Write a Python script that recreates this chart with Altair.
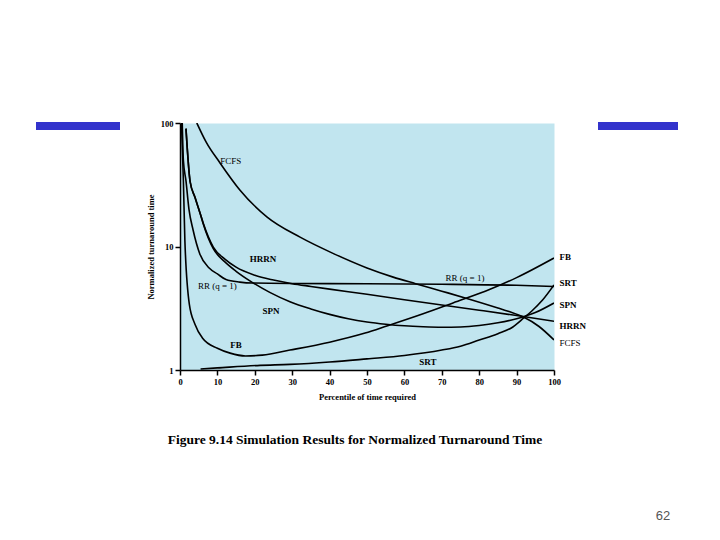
import altair as alt
import pandas as pd

# ---- series values ----
fcfs_x = [4.5, 7.0, 10.7, 16.0, 23.3, 32.1, 40.9, 50.0, 57.0, 63.0, 70.0, 76.7, 85.0, 88.0, 91.7, 96.0, 100]
fcfs_y = [100, 70, 47.5, 28.7, 17.3, 11.9, 8.8, 6.7, 5.65, 5.0, 4.35, 3.8, 3.18, 2.97, 2.7, 2.25, 1.75]

hrrn_x = [1.6, 2.7, 4.0, 5.35, 6.2, 8.9, 12, 15, 20, 25, 30, 35, 40, 50, 60, 70, 80, 90, 100]
hrrn_y = [90, 33.6, 25, 18.7, 15.5, 9.9, 7.9, 6.8, 5.85, 5.35, 5.0, 4.75, 4.52, 4.1, 3.71, 3.36, 3.05, 2.76, 2.48]

spn_x = [1.6, 2.7, 4.0, 5.35, 6.2, 8.9, 12, 15, 19, 24, 29.4, 35, 40, 45, 50, 55, 60, 65, 70, 75, 80, 85, 90, 95, 100]
spn_y = [90, 33.6, 25, 18.7, 15.3, 9.6, 7.5, 6.3, 5.2, 4.25, 3.57, 3.12, 2.82, 2.6, 2.45, 2.35, 2.28, 2.24, 2.22, 2.23, 2.29, 2.41, 2.6, 2.92, 3.49]

rr_x = [0.6, 0.9, 1.6, 2.4, 3.5, 5.3, 7.8, 10, 12.3, 16, 19.5, 30, 50, 70, 90, 100]
rr_y = [100, 50, 34, 20, 13.6, 8.7, 6.7, 6.0, 5.4, 5.15, 5.06, 5.02, 5.0, 4.95, 4.85, 4.75]

fb_x = [0.4, 0.9, 1.3, 2.5, 4.0, 6.1, 10, 13.4, 17.5, 22, 29.4, 40, 49.5, 55.3, 65, 73, 82.9, 90, 100]
fb_y = [100, 34.5, 11.3, 3.4, 2.35, 1.8, 1.5, 1.37, 1.30, 1.32, 1.45, 1.68, 1.99, 2.27, 2.85, 3.49, 4.5, 5.6, 8.07]

srt_x = [5.5, 10, 21.4, 29.4, 40, 50, 60, 70, 75, 80, 85, 89, 92, 94, 97, 100]
srt_y = [1.02, 1.04, 1.09, 1.11, 1.16, 1.23, 1.31, 1.45, 1.56, 1.75, 1.97, 2.23, 2.65, 2.99, 3.7, 4.88]

series_names = ["FCFS", "HRRN", "SPN", "RR", "FB", "SRT"]
series_x = [fcfs_x, hrrn_x, spn_x, rr_x, fb_x, srt_x]
series_y = [fcfs_y, hrrn_y, spn_y, rr_y, fb_y, srt_y]

# ---- curve labels ----
bold_labels = ["HRRN", "SPN", "FB", "SRT", "FB", "SRT", "SPN", "HRRN"]
bold_lx = [22.2, 24.3, 15.0, 66.3, 101.5, 101.5, 101.5, 101.5]
bold_ly = [7.9, 3.0, 1.6, 1.16, 8.24, 5.06, 3.36, 2.27]
bold_align = ["center", "center", "center", "center", "left", "left", "left", "left"]

plain_labels = ["FCFS", "RR (q = 1)", "RR (q = 1)", "FCFS"]
plain_lx = [13.6, 10.0, 76.2, 101.5]
plain_ly = [49, 4.75, 5.6, 1.65]
plain_align = ["center", "center", "center", "left"]

x_ticks = list(range(0, 101, 10))
y_ticks = [1, 10, 100]

caption = "Figure 9.14  Simulation Results for Normalized Turnaround Time"
page_no = "62"

# ---- tables ----
rows = []
for n, xs, ys in zip(series_names, series_x, series_y):
    for i, (a, b) in enumerate(zip(xs, ys)):
        rows.append({"series": n, "x": a, "y": b, "order": i})
lines_df = pd.DataFrame(rows)

bold_df = pd.DataFrame({"label": bold_labels, "x": bold_lx, "y": bold_ly, "align": bold_align})
plain_df = pd.DataFrame({"label": plain_labels, "x": plain_lx, "y": plain_ly, "align": plain_align})

SERIF = "Liberation Serif"

x_scale = alt.Scale(domain=[0, 100], nice=False, zero=False)
y_scale = alt.Scale(type="log", domain=[1, 100], nice=False)

X_ENC = alt.X("x:Q", scale=x_scale,
              axis=alt.Axis(values=x_ticks, title="Percentile of time required",
                            titlePadding=7, titleFontSize=8.5, labelFlush=False))
Y_ENC = alt.Y("y:Q", scale=y_scale,
              axis=alt.Axis(values=y_ticks, format="d", title="Normalized turnaround time",
                            titlePadding=5, titleFontSize=8.5, labelFlush=False))

lines = alt.Chart(lines_df).mark_line(
    color="black", strokeWidth=1.6, interpolate="monotone", clip=True
).encode(
    x=X_ENC, y=Y_ENC,
    detail="series:N",
    order="order:Q",
)


def label_layers(df, weight):
    layers = []
    for al in ["center", "left"]:
        sub = df[df["align"] == al]
        if len(sub) == 0:
            continue
        layers.append(
            alt.Chart(sub).mark_text(
                font=SERIF, fontSize=9, fontWeight=weight, color="black",
                align=al, baseline="middle"
            ).encode(x=X_ENC, y=Y_ENC, text="label:N")
        )
    return layers


one = pd.DataFrame({"k": [0]})

bar_left = alt.Chart(one).mark_rect(color="#3333cc").encode(
    x=alt.value(-144), x2=alt.value(-60), y=alt.value(-1), y2=alt.value(7))
bar_right = alt.Chart(one).mark_rect(color="#3333cc").encode(
    x=alt.value(418), x2=alt.value(498), y=alt.value(-1), y2=alt.value(7))

cap = alt.Chart(one).mark_text(
    text=caption, font=SERIF, fontWeight="bold", fontSize=13.5, color="black",
    align="center", baseline="middle"
).encode(x=alt.value(175), y=alt.value(317))

page = alt.Chart(one).mark_text(
    text=page_no, font="Liberation Sans", fontSize=13, color="#555555",
    align="center", baseline="middle"
).encode(x=alt.value(483), y=alt.value(393))

chart = alt.layer(
    lines, *label_layers(bold_df, "bold"), *label_layers(plain_df, "normal"),
    bar_left, bar_right, cap, page
).properties(
    width=374, height=247,
    padding={"left": 172, "top": 115, "right": 150, "bottom": 158},
    autosize="none",
    background="white",
).configure_view(
    fill="#c1e5ef", stroke="transparent"
).configure_axis(
    grid=False, domainColor="black", domainWidth=1.5, tickColor="black",
    tickWidth=1.5, tickSize=5, labelFont=SERIF, labelFontWeight="bold",
    labelFontSize=8.5, labelColor="black", titleFont=SERIF, titleFontWeight="bold",
    titleColor="black", labelPadding=2
)

chart.save("out.html", embed_options={"renderer": "svg", "actions": False})
